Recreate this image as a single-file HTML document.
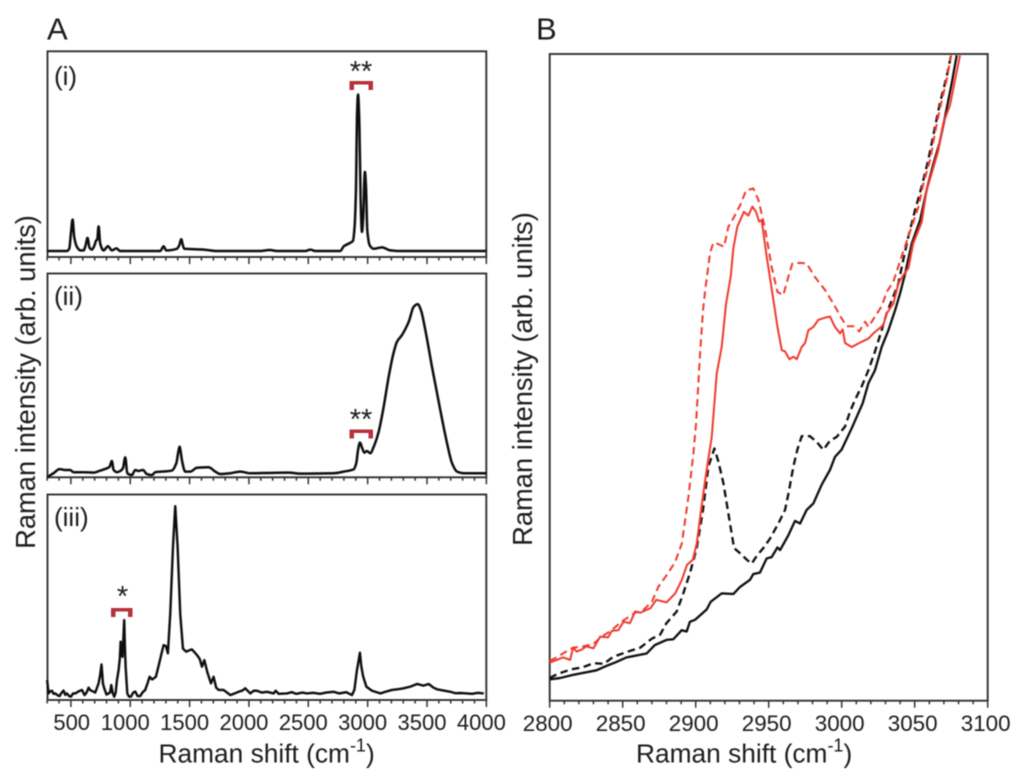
<!DOCTYPE html>
<html lang="en">
<head>
<meta charset="utf-8">
<title>Raman spectra</title>
<style>
html,body{margin:0;padding:0;background:#fff;}
svg{display:block;}
text{font-family:"Liberation Sans",sans-serif;fill:#1c1c1c;}
</style>
</head>
<body>
<svg id="fig" xmlns="http://www.w3.org/2000/svg" width="1024" height="783" viewBox="0 0 1024 783">
<defs>
<filter id="soft" x="-2%" y="-2%" width="104%" height="104%"><feGaussianBlur stdDeviation="0.4"/></filter>
<clipPath id="clipB"><rect x="549.7" y="54" width="438" height="646.7"/></clipPath>
</defs>
<g id="root" filter="url(#soft)">
<text x="47" y="39.5" font-size="31">A</text>
<text x="536" y="39.5" font-size="31">B</text>
<text x="54" y="85" font-size="26">(i)</text>
<text x="54" y="305" font-size="26">(ii)</text>
<text x="54" y="526" font-size="26">(iii)</text>
<text x="361" y="81" font-size="29" text-anchor="middle">**</text>
<text x="361" y="429" font-size="29" text-anchor="middle">**</text>
<text x="122.5" y="606" font-size="29" text-anchor="middle">*</text>
<path d="M349.5 81h23.5v9h-4.5v-5.5h-14.5v5.5h-4.5z" fill="#b5323a"/>
<path d="M349.5 429.5h23.5v9h-4.5v-5.5h-14.5v5.5h-4.5z" fill="#b5323a"/>
<path d="M111 608h21.5v9h-4.5v-5.5h-12.5v5.5h-4.5z" fill="#b5323a"/>
<text transform="translate(35,382) rotate(-90)" font-size="27.3" text-anchor="middle">Raman intensity (arb. units)</text>
<text transform="translate(532,379) rotate(-90)" font-size="27.3" text-anchor="middle">Raman intensity (arb. units)</text>
<text x="158.5" y="762.5" font-size="26.3">Raman shift (cm<tspan font-size="18" dy="-11">-1</tspan><tspan dy="11">)</tspan></text>
<text x="636" y="762.5" font-size="26.3">Raman shift (cm<tspan font-size="18" dy="-11">-1</tspan><tspan dy="11">)</tspan></text>
</g>
</svg>
<script>
// ---- Panel A categories / ticks ----
const tickLabelsA = [500,1000,1500,2000,2500,3000,3500,4000];
const minorTicksA = [300,400,600,700,800,900,1100,1200,1300,1400,1600,1700,1800,1900,2100,2200,2300,2400,2600,2700,2800,2900,3100,3200,3300,3400,3600,3700,3800,3900];
const tickLabelsB = [2800,2850,2900,2950,3000,3050,3100];
const minorTicksB = [2810,2820,2830,2840,2860,2870,2880,2890,2910,2920,2930,2940,2960,2970,2980,2990,3010,3020,3030,3040,3060,3070,3080,3090];

// ---- Spectrum (i) ----
const spec1Shift = [300,466,486,500,514,528,551,579,607,624,640,657,677,699,713,722,733,747,775,812,846,882,916,1253,1281,1303,1393,1412,1430,1442,1455,1618,1730,2095,2174,2236,2475,2517,2559,2770,2798,2840,2876,2890,2902,2910,2919,2930,2941,2952,2963,2972,2977,2986,2997,3017,3051,3121,3191,3275,4000];
const spec1Int = [2.9,2.9,4,11.4,18.2,9.7,4.9,3.2,3.2,5.7,9.3,4.5,3.6,5.7,8.1,8.4,14.9,6.5,3.2,5.2,3.2,4.2,2.9,2.9,5.2,3.2,4,5.6,8.6,6,4,3.6,2.9,2.9,3.4,2.9,2.9,3.6,2.9,2.9,5.2,6.5,7.8,14.6,34,68,79,65,27.6,12.2,19.5,37.3,41.4,34,13,5.7,4,4.7,3.2,2.9,2.9];

// ---- Spectrum (ii) ----
const spec2Shift = [300,325,354,404,452,494,522,607,691,747,803,826,845,860,888,916,938,958,975,1014,1042,1070,1107,1140,1183,1211,1295,1351,1388,1405,1416,1425,1435,1463,1506,1562,1660,1716,1758,1843,1927,2011,2124,2334,2433,2713,2798,2882,2904,2919,2935,2955,2972,2994,3022,3051,3093,3135,3177,3214,3247,3289,3346,3388,3421,3449,3486,3542,3612,3669,3711,3753,3809,4000];
const spec2Int = [0,1,2,4,3.6,3.6,2.5,2.5,2.3,3.3,4.4,5.2,8,3.6,2.5,3.1,4.4,9.8,2,1.1,3.6,3.1,3.6,1.6,1.1,2.5,2.9,3.3,6.9,12.5,15,12.5,8.5,2.8,2.8,4.7,4.9,2.8,1.6,2,2.8,2,2.1,2.3,1.8,2,2.8,3.9,6.9,13.4,17,14.2,12.1,12.9,11.8,15,22.4,34.6,49.3,60,66.5,69.8,76.3,83.7,85,82,72.2,54.2,33,16.7,6.9,2.8,2,2];

// ---- Spectrum (iii) ----
const spec3Shift = [300,312,325,340,354,368,385,404,420,438,452,466,483,500,518,537,565,593,615,632,649,663,677,705,733,746,758,770,781,800,817,830,840,852,865,877,888,902,912,919,927,935,942,949,955,961,975,990,1006,1025,1042,1062,1084,1105,1126,1145,1163,1185,1216,1247,1265,1281,1301,1317,1337,1360,1379,1399,1421,1444,1472,1497,1520,1562,1585,1604,1624,1652,1680,1702,1724,1744,1786,1843,1880,1913,1945,1969,2011,2040,2067,2110,2152,2208,2225,2250,2320,2360,2400,2450,2489,2540,2600,2650,2713,2760,2820,2868,2888,2910,2925,2935,2945,2961,2989,3010,3037,3107,3150,3205,3250,3303,3360,3416,3470,3514,3550,3584,3640,3697,3740,3790,3837,3880,3930,3978];
const spec3Int = [9.7,3.2,4.2,4.5,3,3.2,2.4,1.9,3.4,4.6,2.5,3.2,2,1.6,3.2,3.2,4.2,4.9,2.4,3.6,6,4.8,4.4,3.6,8.1,12,17.3,8,5.7,2.6,3.2,3.6,7.3,3.5,1.6,3.6,9.7,14.6,20,28.4,23,21,30,38.9,26,16.2,3.2,1.6,1.6,3.6,4.1,1.9,1.9,3.8,4.9,8,11.3,10,11.3,18.6,23,26.7,26.2,22.7,42,74.6,94.3,74.6,42,25,23.5,24.2,24.6,21.9,20,16.2,19.4,13,8.1,11.3,6,4.9,4.9,2.4,3.2,4,4.6,5.7,3.2,4.5,4.5,3.6,4,3.2,4.5,3,3.2,3.8,3,3.6,3.2,3.5,3,3.6,4,3.2,3.8,2.4,4.9,14.6,19.5,23,17,11.7,6.5,5.6,4.5,3.2,4,4.9,5.2,5.7,6.5,7.8,7,7.8,6.2,5.2,4.6,4,3.3,3.4,3.2,3,3.5,3.2];

// ---- Panel B spectra ----
const redSolidShift = [2800,2805,2809,2814,2816,2818.5,2822,2825,2830,2834.5,2840,2842.5,2847,2850.5,2855,2858.5,2862,2869,2873,2880,2886,2890.5,2894,2898,2900.7,2904,2907.5,2911,2914.4,2917.8,2920.8,2924,2925.8,2928.5,2933,2936,2938.8,2941.3,2943.4,2945.2,2948.6,2953.2,2956,2959,2961.2,2964.2,2967,2969.2,2972.6,2974.9,2977.2,2980.6,2984,2989.7,2992,2995.4,2998.9,3000.7,3002.3,3006.8,3013.7,3018.3,3021.7,3028.5,3030.8,3035.4,3038.8,3042.2,3045.7,3049,3054.8,3058.2,3061.6,3066.2,3069.6,3074.2,3077.6,3081];
const redSolidInt = [5.9,6.3,6.7,6.3,8.2,7.6,7.9,8.4,8.1,9.9,9.8,10.8,10.9,12.2,12,13.8,13.6,14.3,15.6,15.2,16.6,18.7,21,21.8,24.3,30,35.7,40.8,50.6,54.7,61.4,65.6,70,73.3,75.6,75,76.4,75.6,74.1,74.3,68.7,62,57.8,54.2,54,52.8,53.2,52.8,54.7,55.3,57.3,57.8,58.9,59.3,59.4,57.8,56.8,57.4,55.3,54.7,55.5,56,56.8,58.1,59.9,61.4,64.5,65.8,66.9,70.7,74,79,81.5,85.1,89.3,92.1,96,99.8];
const redDashShift = [2800,2805,2809,2816,2823,2830,2835.6,2842.5,2849,2858.5,2864,2870,2874.4,2881,2886,2890.5,2895,2898.4,2900.2,2903,2905,2906.8,2909.8,2912,2915.5,2919.4,2922.4,2925.8,2930.4,2934.5,2939.5,2943,2947.5,2952,2956,2960,2963.5,2966.2,2971.5,2976,2981.7,2988.6,2994.3,3000,3003.4,3008,3012,3016,3018.3,3022.8,3027.4,3030.8,3035.4,3041,3045.7,3052.6,3056,3060.5,3063.8,3067.3,3071.9,3074.9];
const redDashInt = [6.2,6.7,7.3,8.2,8.4,8.8,9.9,10.9,12.2,13.6,14,15.3,17.6,19.7,21.5,24.3,31.5,38.2,42.7,53.7,60.4,64,69.2,70.8,70.6,70.2,73.3,74.6,76.6,78.9,79.2,77.4,73,67.1,63.2,62.7,65.6,67.6,67.7,67.6,65.5,63.5,61.4,59.1,57.9,57.9,57.1,58.6,57.8,59.4,61,63.2,64.8,68.7,71.8,76.4,80,83.6,87.7,91.6,96,99.8];
const blackSolidShift = [2800,2807,2816,2820.8,2832,2839,2844.7,2852.7,2861.9,2866.4,2872,2880,2884.7,2890.4,2893.8,2896,2899.5,2907.5,2910.3,2917.8,2925.8,2930.4,2937.2,2939.5,2944,2948.6,2952,2956,2957.8,2963.5,2968,2971.5,2976,2980.6,2986.3,2992,2995.4,2999.9,3006.8,3014.4,3018.3,3022.8,3027.4,3032,3036.6,3040,3043.4,3048,3053.7,3058.2,3062.8,3067,3070.8,3075.4,3078.8];
const blackSolidInt = [3.3,3.5,4,4.2,4.7,5.4,5.9,6.7,7.1,7.3,8.6,9.4,9.5,10.9,10.7,12.2,12.5,14.1,15.3,16.6,16.5,17.6,18.7,19.6,19.8,22,22.2,23.7,23.3,25.6,27.8,27.4,29.5,30.5,33.4,35.7,37.7,38.8,42.1,46,49.1,51.1,54.7,57.3,60.4,63,66,70.7,74.3,79,83,86.2,90.3,95.5,99.8];
const blackDashShift = [2800,2805,2814,2823,2830,2837,2843.6,2855,2862,2870,2875.6,2880,2887,2891.5,2896,2900.7,2905,2908.7,2912.8,2915.5,2919,2923.5,2926.3,2930.4,2935,2938.4,2941.8,2946.3,2951,2956.6,2961.2,2963.5,2966.9,2969.6,2972.6,2978.3,2982.9,2987.4,2992,2996.6,3002.3,3005.7,3009.1,3013.7,3018.3,3022.8,3027.4,3030.8,3038.8,3042,3045.7,3050.3,3054.8,3059.3,3064,3067.3,3071.9,3074.9];
const blackDashInt = [3.5,4.1,4.8,5.2,5.8,5.7,6.8,7.7,8.2,9.6,10.2,12,13.8,16.6,19.7,23.6,29.5,36.2,39,37,33.6,27.4,23.6,22.8,21.8,21.2,22.4,23.6,25.1,27.4,29.5,32,36.2,38.8,40.9,40.9,40,38.8,40.2,40.8,42.4,44.7,46.5,48.6,51.1,54,57.3,59.9,64.5,68,71.8,75.9,79.5,83.6,88.8,92.4,96.5,99.8];

// ---- Axis functions ----
const NS = 'http://www.w3.org/2000/svg';
const root = document.getElementById('root');
function xA(v){ return 70.9 + (v - 500) * 0.11870; }
function xB(v){ return 549.7 + (v - 2800) * 1.46; }
function yOf(v, top, bottom){ return bottom - v / 100 * (bottom - top); }
function linePath(xs, ys, xf, top, bottom){
  let d = '';
  for (let i = 0; i < xs.length; i++) {
    d += (i ? 'L' : 'M') + xf(xs[i]).toFixed(2) + ' ' + yOf(ys[i], top, bottom).toFixed(2);
  }
  return d;
}
// Monotone cubic through the data points (no overshoot), for the smoother spectra.
function smoothPath(xs, ys, xf, top, bottom){
  const px = xs.map(xf);
  const py = ys.map(function(v){ return yOf(v, top, bottom); });
  const n = px.length;
  const s = [];
  for (let i = 0; i < n - 1; i++) s.push((py[i + 1] - py[i]) / (px[i + 1] - px[i]));
  const m = [s[0]];
  for (let i = 1; i < n - 1; i++) m.push(s[i - 1] * s[i] <= 0 ? 0 : 2 * s[i - 1] * s[i] / (s[i - 1] + s[i]));
  m.push(s[n - 2]);
  let d = 'M' + px[0].toFixed(2) + ' ' + py[0].toFixed(2);
  for (let i = 0; i < n - 1; i++) {
    const h = (px[i + 1] - px[i]) / 3;
    d += 'C' + (px[i] + h).toFixed(2) + ' ' + (py[i] + m[i] * h).toFixed(2) + ' ' +
         (px[i + 1] - h).toFixed(2) + ' ' + (py[i + 1] - m[i + 1] * h).toFixed(2) + ' ' +
         px[i + 1].toFixed(2) + ' ' + py[i + 1].toFixed(2);
  }
  return d;
}
function makePath(d, stroke, width){
  const p = document.createElementNS(NS, 'path');
  p.setAttribute('d', d);
  p.setAttribute('fill', 'none');
  p.setAttribute('stroke', stroke);
  p.setAttribute('stroke-width', width);
  p.setAttribute('stroke-linejoin', 'round');
  root.appendChild(p);
  return p;
}
function makeFrame(left, top, right, bottom){
  const r = document.createElementNS(NS, 'rect');
  r.setAttribute('x', left);
  r.setAttribute('y', top);
  r.setAttribute('width', right - left);
  r.setAttribute('height', bottom - top);
  r.setAttribute('fill', 'none');
  r.setAttribute('stroke', '#333');
  r.setAttribute('stroke-width', '1.9');
  root.appendChild(r);
  return r;
}
function tickPath(majors, minors, xf, bottom, majLen, minLen){
  let d = '';
  majors.forEach(function(v){ d += 'M' + xf(v).toFixed(2) + ' ' + bottom + 'v' + majLen; });
  minors.forEach(function(v){ d += 'M' + xf(v).toFixed(2) + ' ' + bottom + 'v' + minLen; });
  return d;
}
function tickText(v, xf, y, dx, size){
  const t = document.createElementNS(NS, 'text');
  t.setAttribute('x', (xf(v) + dx).toFixed(2));
  t.setAttribute('y', y);
  t.setAttribute('font-size', size);
  t.setAttribute('text-anchor', 'middle');
  t.textContent = String(v);
  root.appendChild(t);
  return t;
}

// ---- Panel A ----
const f1 = makeFrame(47.5, 51.3, 486.3, 257);


const f2 = makeFrame(47.5, 273.5, 486.3, 477.3);


const f3 = makeFrame(47.5, 494.5, 486.3, 700);



const t1 = makePath(tickPath(tickLabelsA, minorTicksA, xA, 257, 7, 3.5), '#333', 1.5);


const t2 = makePath(tickPath(tickLabelsA, minorTicksA, xA, 477.3, 7, 3.5), '#333', 1.5);


const t3 = makePath(tickPath(tickLabelsA, minorTicksA, xA, 700, 7, 3.5), '#333', 1.5);



const s1 = makePath(smoothPath(spec1Shift, spec1Int, xA, 51.3, 257), '#0c0c0c', 2.5);


const s2 = makePath(smoothPath(spec2Shift, spec2Int, xA, 273.5, 477.3), '#0c0c0c', 2.5);


const s3 = makePath(linePath(spec3Shift, spec3Int, xA, 494.5, 700), '#0c0c0c', 2.4);



tickLabelsA.forEach(function(v){
  const t = tickText(v, xA, 730, v === 500 ? 0.8 : -5, '22');
  
  
});

// ---- Panel B ----
const fB = makeFrame(549.7, 54, 987.7, 700.7);


const tB = makePath(tickPath(tickLabelsB, minorTicksB, xB, 700.7, 7, 3.5), '#333', 1.5);



const bs = makePath(linePath(blackSolidShift, blackSolidInt, xB, 54, 700.7), '#0c0c0c', 2.3);
bs.setAttribute('clip-path', 'url(#clipB)');


const bd = makePath(linePath(blackDashShift, blackDashInt, xB, 54, 700.7), '#0c0c0c', 2.3);
bd.setAttribute('stroke-dasharray', '7.5 4.5');
bd.setAttribute('clip-path', 'url(#clipB)');


const rs = makePath(linePath(redSolidShift, redSolidInt, xB, 54, 700.7), '#ee3a2e', 2);
rs.setAttribute('clip-path', 'url(#clipB)');


const rd = makePath(linePath(redDashShift, redDashInt, xB, 54, 700.7), '#ee3a2e', 2);
rd.setAttribute('stroke-dasharray', '7.5 4.5');
rd.setAttribute('clip-path', 'url(#clipB)');



tickLabelsB.forEach(function(v){
  const t = tickText(v, xB, 731, -2, '22.4');
  
  
});
</script>
</body>
</html>
